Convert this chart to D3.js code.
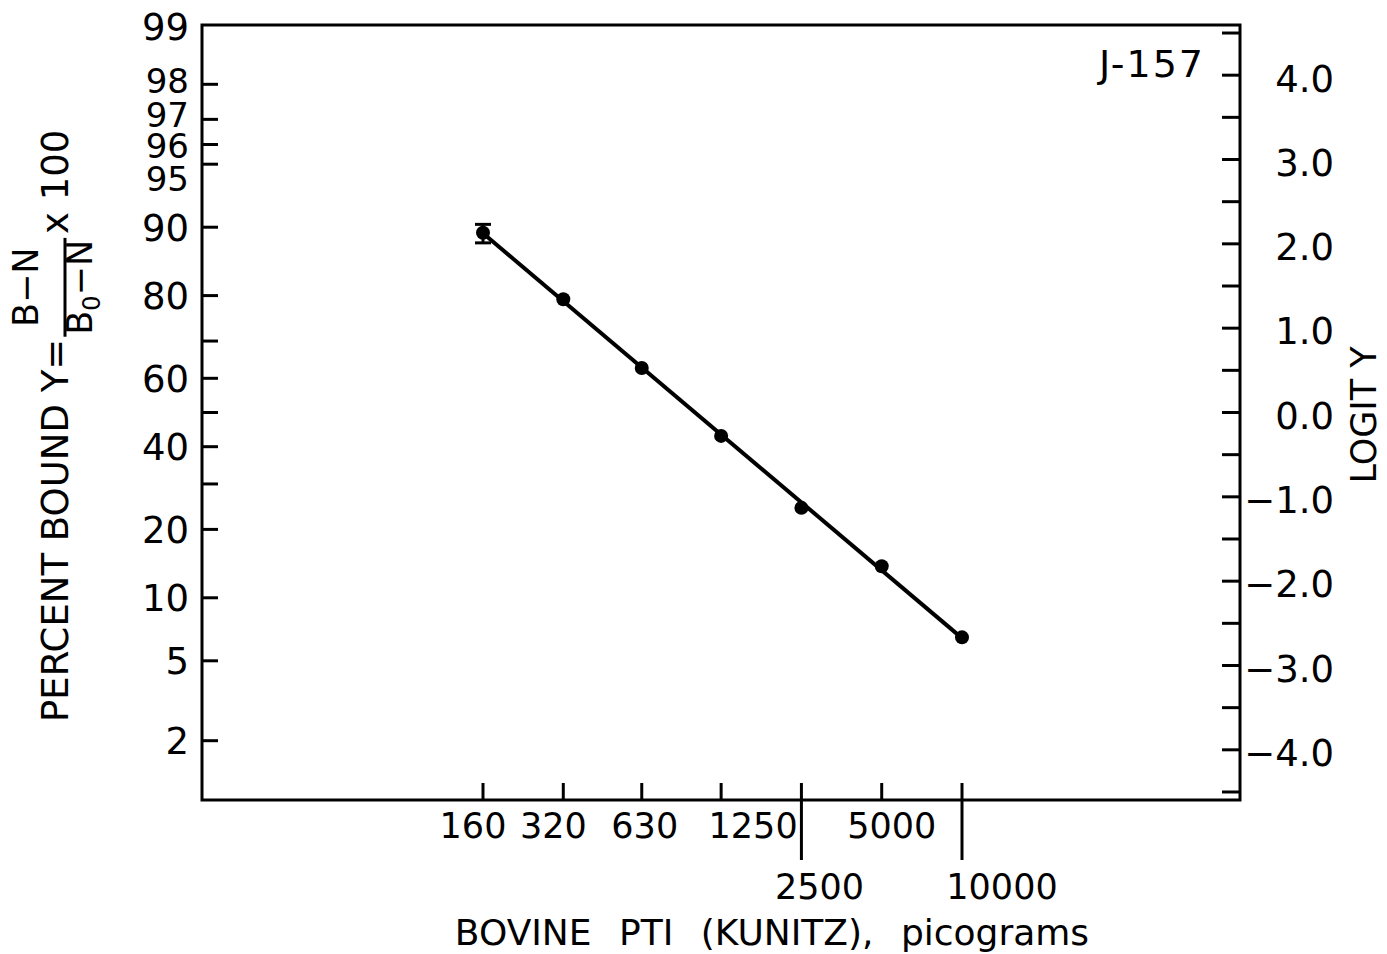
<!DOCTYPE html>
<html>
<head>
<meta charset="utf-8">
<script src="https://cdn.jsdelivr.net/npm/d3@7"></script>
<style>
  html, body { margin: 0; padding: 0; background: #fff; }
  svg { display: block; }
  text { font-family: "DejaVu Sans", sans-serif; fill: #000; }
</style>
</head>
<body>
<svg id="chart" width="1387" height="954"></svg>
<script>
// ---------------- data ----------------
const doses = [160, 320, 630, 1250, 2500, 5000, 10000];           // picograms
const percentBound = [89.4, 79.3, 62.9, 43.1, 24.4, 13.9, 6.5];   // % bound
const errorBars = [{ dose: 160, lo: 88.2, hi: 90.3 }];

const xTickValues = [160, 320, 630, 1250, 2500, 5000, 10000];
const xLongTicks = [2500, 10000];
const percentTickValues = [2, 5, 10, 20, 30, 40, 50, 60, 70, 80, 90, 95, 96, 97, 98];
const percentLabelValues = [99, 98, 97, 96, 95, 90, 80, 60, 40, 20, 10, 5, 2];
const logitTickValues = [-4.5, -4, -3.5, -3, -2.5, -2, -1.5, -1, -0.5, 0, 0.5, 1, 1.5, 2, 2.5, 3, 3.5, 4, 4.5];
const logitLabelValues = [-4, -3, -2, -1, 0, 1, 2, 3, 4];

// ---------------- layout ----------------
const L = { left: 202, right: 1240, top: 25, bottom: 800 };
const FS = 37;
const pctNudge = { 99: 2, 98: -4, 97: -5, 96: 1, 95: 15 };
const pctSize = { 98: 34, 97: 34, 96: 34, 95: 34 };
const xLabelDx = { 160: -10, 320: -10, 630: 3, 1250: 32, 2500: 18, 5000: 10, 10000: 40 };

const logit = p => Math.log(p / (100 - p));

const svg = d3.select("#chart");

const x = d3.scaleLog().domain([160, 10000]).range([483, 962]);
const y = d3.scaleLinear().domain([logit(1), logit(99)]).range([L.bottom, L.top]);

// frame
svg.append("rect")
  .attr("x", L.left).attr("y", L.top)
  .attr("width", L.right - L.left).attr("height", L.bottom - L.top)
  .attr("fill", "none").attr("stroke", "#000").attr("stroke-width", 3);

// left axis ticks (inward)
svg.append("g").selectAll("line").data(percentTickValues).join("line")
  .attr("x1", L.left).attr("x2", L.left + 16)
  .attr("y1", d => y(logit(d))).attr("y2", d => y(logit(d)))
  .attr("stroke", "#000").attr("stroke-width", 3);

svg.append("g").selectAll("text").data(percentLabelValues).join("text")
  .attr("x", L.left - 13)
  .attr("y", d => y(logit(d)) + (pctNudge[d] || 0))
  .attr("dy", "0.36em")
  .attr("text-anchor", "end")
  .attr("font-size", d => pctSize[d] || FS)
  .text(d => d);

// right axis ticks (inward)
svg.append("g").selectAll("line").data(logitTickValues).join("line")
  .attr("x1", L.right - 18).attr("x2", L.right)
  .attr("y1", d => y(d)).attr("y2", d => y(d))
  .attr("stroke", "#000").attr("stroke-width", 3);

svg.append("g").selectAll("text").data(logitLabelValues).join("text")
  .attr("x", 1334)
  .attr("y", d => y(d) + 3)
  .attr("dy", "0.36em")
  .attr("text-anchor", "end")
  .attr("font-size", FS)
  .text(d => (d < 0 ? "\u2212" : "") + Math.abs(d).toFixed(1));

// x axis ticks
svg.append("g").selectAll("line").data(xTickValues).join("line")
  .attr("x1", d => x(d)).attr("x2", d => x(d))
  .attr("y1", L.bottom - 17)
  .attr("y2", d => xLongTicks.includes(d) ? 860 : L.bottom)
  .attr("stroke", "#000").attr("stroke-width", 3);

svg.append("g").selectAll("text").data(xTickValues).join("text")
  .attr("x", d => x(d) + xLabelDx[d])
  .attr("y", d => xLongTicks.includes(d) ? 899 : 838)
  .attr("text-anchor", "middle")
  .attr("font-size", 35)
  .text(d => d);

// fitted line (least squares of logit vs log dose)
const lx = doses.map(d => Math.log(d));
const ly = percentBound.map(logit);
const mx = d3.mean(lx), my = d3.mean(ly);
const slope = d3.sum(lx.map((v, i) => (v - mx) * (ly[i] - my))) / d3.sum(lx.map(v => (v - mx) ** 2));
const icpt = my - slope * mx;
const fitEnds = [doses[0], doses[doses.length - 1]];
svg.append("path")
  .datum(fitEnds)
  .attr("d", d3.line().x(d => x(d)).y(d => y(icpt + slope * Math.log(d))))
  .attr("fill", "none").attr("stroke", "#000").attr("stroke-width", 4);

// error bars
const eb = svg.append("g").attr("stroke", "#000").attr("stroke-width", 3);
errorBars.forEach(e => {
  eb.append("line").attr("x1", x(e.dose)).attr("x2", x(e.dose))
    .attr("y1", y(logit(e.hi))).attr("y2", y(logit(e.lo)));
  [e.hi, e.lo].forEach(v => eb.append("line")
    .attr("x1", x(e.dose) - 8).attr("x2", x(e.dose) + 8)
    .attr("y1", y(logit(v))).attr("y2", y(logit(v))));
});

// points
svg.append("g").selectAll("circle").data(doses).join("circle")
  .attr("cx", d => x(d))
  .attr("cy", (d, i) => y(logit(percentBound[i])))
  .attr("r", 7).attr("fill", "#000");

// J-157
svg.append("text").attr("x", 1205).attr("y", 77)
  .attr("text-anchor", "end").attr("font-size", 38).attr("letter-spacing", 2).text("J-157");

// x title
svg.append("text").attr("x", 772).attr("y", 945)
  .attr("text-anchor", "middle").attr("font-size", 36)
  .attr("word-spacing", 16)
  .text("BOVINE PTI (KUNITZ), picograms");

// right title
svg.append("text")
  .attr("transform", "translate(1376,415) rotate(-90)")
  .attr("text-anchor", "middle").attr("font-size", 35)
  .text("LOGIT Y");

// left title with fraction
const lt = svg.append("g").attr("transform", "translate(68,722) rotate(-90)");
const main = lt.append("text").attr("x", 0).attr("y", 0).attr("font-size", 37)
  .text("PERCENT BOUND Y=");
const mainW = main.node().getComputedTextLength();
const num = lt.append("text").attr("y", -30).attr("font-size", 35).attr("text-anchor", "middle").text("B\u2212N");
const den = lt.append("text").attr("y", 24).attr("font-size", 35).attr("text-anchor", "middle");
den.append("tspan").text("B");
den.append("tspan").attr("font-size", 24).attr("dy", 8).text("0");
den.append("tspan").attr("dy", -8).text("\u2212N");
const fracW = Math.max(num.node().getComputedTextLength(), den.node().getComputedTextLength()) + 4;
const fx = mainW + 2 + fracW / 2;
num.attr("x", fx);
den.attr("x", fx);
lt.append("line").attr("x1", mainW + 2).attr("x2", mainW + 2 + fracW)
  .attr("y1", -3).attr("y2", -3).attr("stroke", "#000").attr("stroke-width", 3);
lt.append("text").attr("x", mainW + fracW + 6).attr("y", 0).attr("font-size", 37).text("x 100");
</script>
</body>
</html>
